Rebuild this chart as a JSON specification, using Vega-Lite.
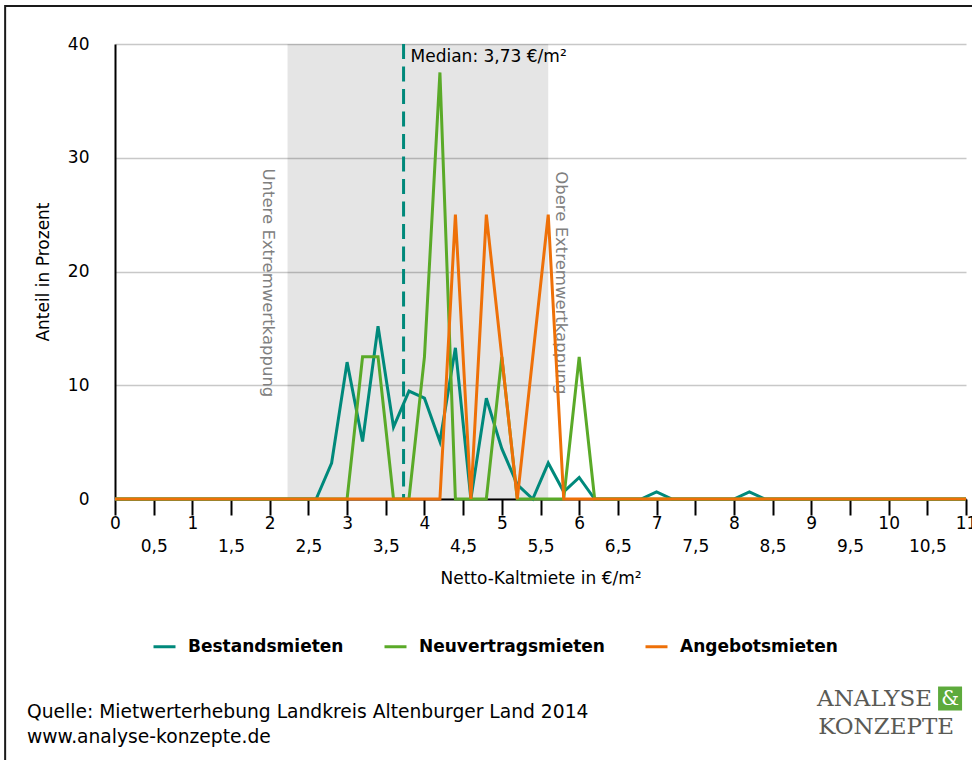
{
  "$schema": "https://vega.github.io/schema/vega-lite/v6.json",
  "width": 851,
  "height": 455,
  "autosize": {"type": "none"},
  "padding": {"left": 115, "top": 44, "right": 6, "bottom": 261},
  "background": "white",
  "config": {
    "font": "DejaVu Sans",
    "view": {"stroke": null}
  },
  "resolve": {"axis": {"x": "independent"}},
  "datasets": {
    "kurven": [
      {"serie": "Bestandsmieten", "miete": 0, "anteil": 0},
      {"serie": "Bestandsmieten", "miete": 2.6, "anteil": 0},
      {"serie": "Bestandsmieten", "miete": 2.8, "anteil": 3.16},
      {"serie": "Bestandsmieten", "miete": 3.0, "anteil": 12.03},
      {"serie": "Bestandsmieten", "miete": 3.2, "anteil": 5.06},
      {"serie": "Bestandsmieten", "miete": 3.4, "anteil": 15.19},
      {"serie": "Bestandsmieten", "miete": 3.6, "anteil": 6.33},
      {"serie": "Bestandsmieten", "miete": 3.8, "anteil": 9.49},
      {"serie": "Bestandsmieten", "miete": 4.0, "anteil": 8.86},
      {"serie": "Bestandsmieten", "miete": 4.2, "anteil": 5.06},
      {"serie": "Bestandsmieten", "miete": 4.4, "anteil": 13.29},
      {"serie": "Bestandsmieten", "miete": 4.6, "anteil": 0},
      {"serie": "Bestandsmieten", "miete": 4.8, "anteil": 8.86},
      {"serie": "Bestandsmieten", "miete": 5.0, "anteil": 4.43},
      {"serie": "Bestandsmieten", "miete": 5.2, "anteil": 1.27},
      {"serie": "Bestandsmieten", "miete": 5.4, "anteil": 0},
      {"serie": "Bestandsmieten", "miete": 5.6, "anteil": 3.16},
      {"serie": "Bestandsmieten", "miete": 5.8, "anteil": 0.63},
      {"serie": "Bestandsmieten", "miete": 6.0, "anteil": 1.9},
      {"serie": "Bestandsmieten", "miete": 6.2, "anteil": 0},
      {"serie": "Bestandsmieten", "miete": 6.8, "anteil": 0},
      {"serie": "Bestandsmieten", "miete": 7.0, "anteil": 0.63},
      {"serie": "Bestandsmieten", "miete": 7.2, "anteil": 0},
      {"serie": "Bestandsmieten", "miete": 8.0, "anteil": 0},
      {"serie": "Bestandsmieten", "miete": 8.2, "anteil": 0.63},
      {"serie": "Bestandsmieten", "miete": 8.4, "anteil": 0},
      {"serie": "Bestandsmieten", "miete": 11, "anteil": 0},
      {"serie": "Neuvertragsmieten", "miete": 0, "anteil": 0},
      {"serie": "Neuvertragsmieten", "miete": 3.0, "anteil": 0},
      {"serie": "Neuvertragsmieten", "miete": 3.2, "anteil": 12.5},
      {"serie": "Neuvertragsmieten", "miete": 3.4, "anteil": 12.5},
      {"serie": "Neuvertragsmieten", "miete": 3.6, "anteil": 0},
      {"serie": "Neuvertragsmieten", "miete": 3.8, "anteil": 0},
      {"serie": "Neuvertragsmieten", "miete": 4.0, "anteil": 12.5},
      {"serie": "Neuvertragsmieten", "miete": 4.2, "anteil": 37.5},
      {"serie": "Neuvertragsmieten", "miete": 4.4, "anteil": 0},
      {"serie": "Neuvertragsmieten", "miete": 4.8, "anteil": 0},
      {"serie": "Neuvertragsmieten", "miete": 5.0, "anteil": 12.5},
      {"serie": "Neuvertragsmieten", "miete": 5.2, "anteil": 0},
      {"serie": "Neuvertragsmieten", "miete": 5.8, "anteil": 0},
      {"serie": "Neuvertragsmieten", "miete": 6.0, "anteil": 12.5},
      {"serie": "Neuvertragsmieten", "miete": 6.2, "anteil": 0},
      {"serie": "Neuvertragsmieten", "miete": 11, "anteil": 0},
      {"serie": "Angebotsmieten", "miete": 0, "anteil": 0},
      {"serie": "Angebotsmieten", "miete": 4.2, "anteil": 0},
      {"serie": "Angebotsmieten", "miete": 4.4, "anteil": 25},
      {"serie": "Angebotsmieten", "miete": 4.6, "anteil": 0},
      {"serie": "Angebotsmieten", "miete": 4.8, "anteil": 25},
      {"serie": "Angebotsmieten", "miete": 5.2, "anteil": 0},
      {"serie": "Angebotsmieten", "miete": 5.6, "anteil": 25},
      {"serie": "Angebotsmieten", "miete": 5.8, "anteil": 0},
      {"serie": "Angebotsmieten", "miete": 11, "anteil": 0}
    ],
    "grenzen": [
      {"unten": 2.23, "oben": 5.6, "median": 3.73}
    ]
  },
  "layer": [
    {
      "data": {"values": [{}]},
      "mark": {"type": "rect", "filled": false, "stroke": "#1a1a1a", "strokeWidth": 2},
      "encoding": {
        "x": {"datum": -1.42, "type": "quantitative", "scale": {"domain": [0, 11], "nice": false, "zero": false}, "axis": null},
        "x2": {"datum": 12},
        "y": {"datum": 43.34, "type": "quantitative", "scale": {"domain": [0, 40], "nice": false}},
        "y2": {"datum": -23.5}
      }
    },
    {
      "data": {"name": "grenzen"},
      "mark": {"type": "rect", "fill": "#000000", "fillOpacity": 0.1},
      "encoding": {
        "x": {
          "field": "unten",
          "type": "quantitative",
          "scale": {"domain": [0, 11], "nice": false, "zero": false},
          "axis": {
            "orient": "bottom",
            "title": null,
            "values": [0.5, 1.5, 2.5, 3.5, 4.5, 5.5, 6.5, 7.5, 8.5, 9.5, 10.5],
            "labelExpr": "replace(toString(datum.value), '.', ',')",
            "ticks": false,
            "tickSize": 0,
            "domain": false,
            "grid": false,
            "labelPadding": 39,
            "labelBaseline": "top",
            "labelFontSize": 17,
            "labelColor": "black",
            "labelOverlap": false,
            "labelBound": false,
            "labelFlush": false
          }
        },
        "x2": {"field": "oben"}
      }
    },
    {
      "data": {"name": "grenzen"},
      "mark": {"type": "text", "text": "Untere Extremwertkappung", "angle": 90, "align": "center", "baseline": "middle", "dy": 20, "fontSize": 16.5, "color": "#808080"},
      "encoding": {
        "x": {"field": "unten", "type": "quantitative", "scale": {"domain": [0, 11], "nice": false, "zero": false}, "axis": null},
        "y": {"datum": 19, "type": "quantitative", "scale": {"domain": [0, 40], "nice": false}}
      }
    },
    {
      "data": {"name": "grenzen"},
      "mark": {"type": "text", "text": "Obere Extremwertkappung", "angle": 90, "align": "center", "baseline": "middle", "dy": -13, "fontSize": 16.5, "color": "#808080"},
      "encoding": {
        "x": {"field": "oben", "type": "quantitative", "scale": {"domain": [0, 11], "nice": false, "zero": false}, "axis": null},
        "y": {"datum": 19, "type": "quantitative", "scale": {"domain": [0, 40], "nice": false}}
      }
    },
    {
      "data": {"name": "grenzen"},
      "mark": {"type": "rule", "color": "#00897B", "strokeWidth": 3, "strokeDash": [15, 7.5]},
      "encoding": {
        "x": {"field": "median", "type": "quantitative", "scale": {"domain": [0, 11], "nice": false, "zero": false}, "axis": null}
      }
    },
    {
      "data": {"name": "kurven"},
      "mark": {"type": "line", "strokeWidth": 3, "interpolate": "linear"},
      "encoding": {
        "x": {
          "field": "miete",
          "type": "quantitative",
          "scale": {"domain": [0, 11], "nice": false, "zero": false},
          "axis": {
            "orient": "bottom",
            "title": "Netto-Kaltmiete in €/m²",
            "values": [0, 0.5, 1, 1.5, 2, 2.5, 3, 3.5, 4, 4.5, 5, 5.5, 6, 6.5, 7, 7.5, 8, 8.5, 9, 9.5, 10, 10.5, 11],
            "labelExpr": "datum.value % 1 ? '' : toString(datum.value)",
            "labelPadding": 0,
            "labelFontSize": 17,
            "labelColor": "black",
            "labelOverlap": false,
            "labelBound": false,
            "labelFlush": false,
            "labelBaseline": "top",
            "tickSize": 16,
            "tickWidth": 2,
            "tickColor": "black",
            "domainColor": "black",
            "domainWidth": 2,
            "grid": false,
            "titleFontSize": 17,
            "titleFontWeight": "normal",
            "titleColor": "black",
            "titleY": 79,
            "titleBaseline": "middle"
          }
        },
        "y": {
          "field": "anteil",
          "type": "quantitative",
          "scale": {"domain": [0, 40], "nice": false},
          "axis": {
            "title": "Anteil in Prozent",
            "values": [0, 10, 20, 30, 40],
            "grid": true,
            "gridColor": "#C8C8C8",
            "gridWidth": 1.5,
            "ticks": false,
            "tickSize": 0,
            "labelPadding": 26,
            "labelFontSize": 17,
            "labelColor": "black",
            "domainColor": "black",
            "domainWidth": 2,
            "titleFontSize": 17,
            "titleFontWeight": "normal",
            "titleColor": "black",
            "titleX": -72,
            "titleY": 227.5,
            "titleAngle": -90,
            "titleBaseline": "middle",
            "titleAlign": "center"
          }
        },
        "color": {
          "field": "serie",
          "type": "nominal",
          "scale": {
            "domain": ["Bestandsmieten", "Neuvertragsmieten", "Angebotsmieten"],
            "range": ["#00897B", "#5AAA28", "#EE7008"]
          },
          "legend": {
            "orient": "none",
            "legendX": 37,
            "legendY": 590,
            "direction": "horizontal",
            "title": null,
            "symbolType": "stroke",
            "symbolStrokeWidth": 3,
            "symbolSize": 484,
            "labelFontSize": 17,
            "labelFontWeight": "bold",
            "labelColor": "black",
            "labelLimit": 400,
            "labelOffset": 11,
            "columnPadding": 34
          }
        }
      }
    },
    {
      "data": {"name": "grenzen"},
      "mark": {"type": "text", "text": "Median: 3,73 €/m²", "align": "left", "baseline": "top", "dx": 7, "dy": 5, "fontSize": 17, "color": "black"},
      "encoding": {
        "x": {"field": "median", "type": "quantitative", "scale": {"domain": [0, 11], "nice": false, "zero": false}, "axis": null},
        "y": {"datum": 40, "type": "quantitative", "scale": {"domain": [0, 40], "nice": false}}
      }
    },
    {
      "data": {"values": [{}]},
      "mark": {"type": "text", "text": "Quelle: Mietwerterhebung Landkreis Altenburger Land 2014", "align": "left", "baseline": "alphabetic", "fontSize": 18.7, "color": "black"},
      "encoding": {
        "x": {"datum": -1.1375, "type": "quantitative", "scale": {"domain": [0, 11], "nice": false, "zero": false}, "axis": null},
        "y": {"datum": -19.25, "type": "quantitative", "scale": {"domain": [0, 40], "nice": false}}
      }
    },
    {
      "data": {"values": [{}]},
      "mark": {"type": "text", "text": "www.analyse-konzepte.de", "align": "left", "baseline": "alphabetic", "fontSize": 18.7, "color": "black"},
      "encoding": {
        "x": {"datum": -1.1375, "type": "quantitative", "scale": {"domain": [0, 11], "nice": false, "zero": false}, "axis": null},
        "y": {"datum": -21.45, "type": "quantitative", "scale": {"domain": [0, 40], "nice": false}}
      }
    },
    {
      "data": {"values": [{}]},
      "mark": {"type": "text", "text": "ANALYSE", "align": "right", "baseline": "alphabetic", "font": "DejaVu Serif", "fontSize": 23, "color": "#5a5a55"},
      "encoding": {
        "x": {"datum": 10.56, "type": "quantitative", "scale": {"domain": [0, 11], "nice": false, "zero": false}, "axis": null},
        "y": {"datum": -18.2, "type": "quantitative", "scale": {"domain": [0, 40], "nice": false}}
      }
    },
    {
      "data": {"values": [{}]},
      "mark": {"type": "text", "text": "KONZEPTE", "align": "right", "baseline": "alphabetic", "font": "DejaVu Serif", "fontSize": 23, "color": "#5a5a55"},
      "encoding": {
        "x": {"datum": 10.846, "type": "quantitative", "scale": {"domain": [0, 11], "nice": false, "zero": false}, "axis": null},
        "y": {"datum": -20.66, "type": "quantitative", "scale": {"domain": [0, 40], "nice": false}}
      }
    },
    {
      "data": {"values": [{}]},
      "mark": {"type": "square", "filled": true, "color": "#5DAA3C", "size": 576, "opacity": 1},
      "encoding": {
        "x": {"datum": 10.794, "type": "quantitative", "scale": {"domain": [0, 11], "nice": false, "zero": false}, "axis": null},
        "y": {"datum": -17.54, "type": "quantitative", "scale": {"domain": [0, 40], "nice": false}}
      }
    },
    {
      "data": {"values": [{}]},
      "mark": {"type": "text", "text": "&", "align": "center", "baseline": "middle", "font": "DejaVu Serif", "fontSize": 20, "color": "white"},
      "encoding": {
        "x": {"datum": 10.794, "type": "quantitative", "scale": {"domain": [0, 11], "nice": false, "zero": false}, "axis": null},
        "y": {"datum": -17.54, "type": "quantitative", "scale": {"domain": [0, 40], "nice": false}}
      }
    }
  ]
}
